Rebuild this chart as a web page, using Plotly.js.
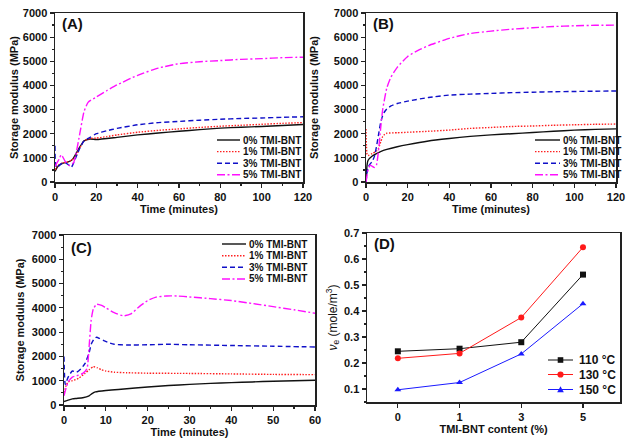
<!DOCTYPE html>
<html><head><meta charset="utf-8">
<script src="https://cdn.plot.ly/plotly-3.0.1.min.js"></script>
<style>html,body{margin:0;padding:0;background:#fff}#chart{width:628px;height:439px}</style>
</head><body><div id="chart"></div>
<script>
// Panel A (time in minutes, storage modulus MPa)
const aTime0 = [0, 1, 2, 4, 6, 8, 9, 10, 12, 14, 17, 20, 30, 40, 50, 60, 70, 80, 90, 100, 110, 120];
const aMod0  = [440, 600, 700, 780, 820, 900, 1000, 1150, 1450, 1700, 1780, 1760, 1850, 1950, 2030, 2100, 2170, 2230, 2270, 2300, 2340, 2380];
const aTime1 = [0, 1, 2, 4, 6, 8, 10, 12, 14, 17, 20, 25, 30, 40, 50, 60, 70, 80, 90, 100, 110, 120];
const aMod1  = [500, 650, 720, 800, 830, 900, 1050, 1400, 1700, 1800, 1820, 1880, 1950, 2060, 2140, 2200, 2260, 2310, 2350, 2390, 2430, 2460];
const aTime3 = [0, 0.3, 1, 3, 5, 7, 8, 10, 12, 14, 17, 20, 25, 30, 40, 50, 60, 70, 80, 90, 100, 110, 120];
const aMod3  = [1500, 700, 600, 750, 800, 680, 620, 1000, 1400, 1700, 1850, 2000, 2120, 2220, 2370, 2460, 2510, 2560, 2600, 2630, 2650, 2680, 2700];
const aTime5 = [0, 1, 2, 3, 4, 5, 7, 9, 10, 12, 14, 16, 20, 25, 30, 40, 50, 60, 70, 80, 90, 100, 110, 120];
const aMod5  = [650, 800, 950, 1130, 1000, 850, 680, 800, 1100, 2000, 2900, 3300, 3520, 3780, 4020, 4420, 4720, 4900, 4980, 5030, 5080, 5110, 5150, 5170];

// Panel B
const bTime0 = [0, 0.5, 1, 3, 5, 7, 10, 15, 20, 30, 40, 50, 60, 70, 80, 90, 100, 110, 120];
const bMod0  = [0, 700, 900, 1080, 1180, 1260, 1350, 1460, 1550, 1700, 1800, 1890, 1950, 2000, 2050, 2100, 2150, 2180, 2200];
const bTime1 = [0, 0.2, 0.5, 1, 3, 5, 6, 7, 8, 9, 10, 15, 20, 30, 40, 50, 60, 70, 80, 90, 100, 110, 120];
const bMod1  = [2200, 1500, 1150, 1100, 1180, 1280, 1400, 1650, 1880, 1980, 2020, 2040, 2060, 2100, 2150, 2220, 2260, 2300, 2320, 2350, 2370, 2390, 2400];
const bTime3 = [0, 0.5, 1, 2, 3, 4, 5, 6, 7, 8, 9, 10, 12, 15, 20, 30, 40, 50, 60, 70, 80, 90, 100, 110, 120];
const bMod3  = [0, 400, 600, 750, 850, 1050, 1450, 1950, 2450, 2750, 2920, 3030, 3150, 3250, 3350, 3500, 3600, 3640, 3670, 3700, 3720, 3740, 3750, 3760, 3770];
const bTime5 = [0, 1, 2, 3, 4, 5, 6, 7, 8, 10, 12, 15, 20, 25, 30, 40, 50, 60, 70, 80, 90, 100, 110, 120];
const bMod5  = [0, 500, 700, 650, 600, 700, 1300, 2200, 3000, 3900, 4350, 4750, 5200, 5450, 5650, 5950, 6150, 6250, 6330, 6390, 6440, 6470, 6490, 6500];

// Panel C
const cTime0 = [0, 1, 2, 3, 4.5, 6, 6.8, 7.5, 10, 13, 17, 20, 25, 30, 35, 40, 45, 50, 55, 60];
const cMod0  = [140, 200, 250, 270, 300, 380, 480, 540, 600, 640, 700, 740, 800, 850, 890, 920, 950, 980, 1000, 1020];
const cTime1 = [0, 0.5, 1, 2, 3.5, 5, 6, 7, 8, 9, 10, 12, 15, 20, 30, 40, 50, 60];
const cMod1  = [500, 800, 950, 1000, 1100, 1300, 1450, 1580, 1530, 1450, 1400, 1350, 1330, 1310, 1300, 1280, 1260, 1250];
const cTime3 = [0, 0.3, 1, 2, 3, 4, 5, 6, 6.5, 7.2, 7.8, 8.5, 9.5, 11, 12, 15, 20, 25, 30, 40, 50, 60];
const cMod3  = [2000, 850, 1150, 1400, 1350, 1480, 1700, 2150, 2500, 2720, 2790, 2740, 2650, 2550, 2500, 2470, 2480, 2500, 2480, 2450, 2420, 2390];
const cTime5 = [0, 0.5, 1, 2, 3, 4.5, 5.5, 6, 6.5, 7, 7.8, 9, 10, 12, 14.2, 16, 18, 20, 22, 24.5, 27, 30, 35, 40, 45, 50, 55, 60];
const cMod5  = [380, 700, 950, 1150, 1200, 1300, 1500, 2400, 3500, 3950, 4150, 4100, 4000, 3800, 3670, 3750, 4050, 4300, 4440, 4490, 4490, 4450, 4380, 4300, 4180, 4050, 3920, 3780];

// Panel D (crosslink density)
const dContent = ['0', '1', '3', '5'];
const d110 = [0.245, 0.255, 0.280, 0.540];
const d130 = [0.218, 0.237, 0.375, 0.645];
const d150 = [0.097, 0.125, 0.235, 0.428];

const seriesNames = ['0% TMI-BNT', '1% TMI-BNT', '3% TMI-BNT', '5% TMI-BNT'];
const tempNames = ['110 °C', '130 °C', '150 °C'];

const FONT = 'Liberation Sans, Arial, sans-serif';
const styles = [
  {color: '#111111', dash: 'solid'},
  {color: '#ff2020', dash: '1.5px,1.5px'},
  {color: '#1010c8', dash: '5px,3px'},
  {color: '#ff10ff', dash: '8px,2.5px,2px,2.5px'}
];
const dCols = ['#111111', '#ff1a1a', '#1a1aff'];
const dSyms = ['square', 'circle', 'triangle-up'];

function lineTraces(xs, ys, xa, ya) {
  return xs.map((x, i) => ({
    x: x, y: ys[i], xaxis: xa, yaxis: ya, type: 'scatter', mode: 'lines',
    name: seriesNames[i], showlegend: false,
    line: {color: styles[i].color, dash: styles[i].dash, width: 1.4, shape: 'spline', smoothing: 0.5}
  }));
}

const traces = [
  ...lineTraces([aTime0, aTime1, aTime3, aTime5], [aMod0, aMod1, aMod3, aMod5], 'x', 'y'),
  ...lineTraces([bTime0, bTime1, bTime3, bTime5], [bMod0, bMod1, bMod3, bMod5], 'x2', 'y2'),
  ...lineTraces([cTime0, cTime1, cTime3, cTime5], [cMod0, cMod1, cMod3, cMod5], 'x3', 'y3'),
];
[d110, d130, d150].forEach((ys, i) => {
  traces.push({x: dContent, y: ys, xaxis: 'x4', yaxis: 'y4', type: 'scatter', mode: 'lines+markers',
    name: tempNames[i], showlegend: false,
    line: {color: dCols[i], width: 1}, marker: {color: dCols[i], symbol: dSyms[i], size: 6}});
});

const W = 628, H = 439;
const px = (a, b) => [a / W, b / W];
const py = (top, bot) => [(H - bot) / H, (H - top) / H];
const X = v => v / W, Y = v => (H - v) / H;

const tickfont = {family: FONT, size: 11, color: '#111', weight: 'bold'};
const titlefont = {family: FONT, size: 11, color: '#111', weight: 'bold'};
function ax(domain, extra) {
  return Object.assign({
    domain: domain, showline: true, linecolor: '#222', linewidth: 1.5, mirror: true,
    ticks: 'outside', ticklen: 4, tickwidth: 1.2, tickcolor: '#222', showgrid: false, zeroline: false,
    tickfont: tickfont, fixedrange: true
  }, extra);
}

const shapes = [];
const annotations = [];
// hand-placed compact legends (Plotly's legend rows are taller than the reference)
function legend(x0, x1, xt, rows, names, fontSize, lineStyles, markers) {
  names.forEach((nm, i) => {
    const y = Y(rows[i]);
    shapes.push({type: 'line', xref: 'paper', yref: 'paper', x0: X(x0), x1: X(x1), y0: y, y1: y,
      line: {color: lineStyles[i].color, dash: lineStyles[i].dash, width: lineStyles[i].width || 1.4}});
    if (markers) {
      const cx = (x0 + x1) / 2, cy = rows[i], r = 2.8;
      const m = markers[i], col = lineStyles[i].color;
      if (m === 'square') shapes.push({type: 'rect', xref: 'paper', yref: 'paper', x0: X(cx - r), x1: X(cx + r), y0: Y(cy + r), y1: Y(cy - r), fillcolor: col, line: {width: 0}});
      else if (m === 'circle') shapes.push({type: 'circle', xref: 'paper', yref: 'paper', x0: X(cx - r - 0.3), x1: X(cx + r + 0.3), y0: Y(cy + r + 0.3), y1: Y(cy - r - 0.3), fillcolor: col, line: {width: 0}});
      else shapes.push({type: 'path', xref: 'paper', yref: 'paper', path: `M ${X(cx - r - 0.5)} ${Y(cy + r)} L ${X(cx + r + 0.5)} ${Y(cy + r)} L ${X(cx)} ${Y(cy - r - 0.5)} Z`, fillcolor: col, line: {width: 0}});
    }
    annotations.push({text: nm, xref: 'paper', yref: 'paper', x: X(xt), y: y, xanchor: 'left', yanchor: 'middle', showarrow: false,
      font: {family: FONT, size: fontSize, color: '#111', weight: 'bold'}});
  });
}
legend(217, 240, 241, [140, 151.6, 163.2, 174.8], seriesNames, 10, styles);
legend(535, 560, 561, [140, 151.6, 163.2, 174.8], seriesNames, 10, styles);
legend(222, 246, 247, [244, 255.7, 267.3, 279], seriesNames, 10, styles);
legend(548, 573, 577, [360, 374.5, 389.5], tempNames, 12, dCols.map(c => ({color: c, dash: 'solid', width: 1})), dSyms);

const panelFont = {family: FONT, size: 15, color: '#111', weight: 'bold'};
[['(A)', 60, 24], ['(B)', 371, 24], ['(C)', 69, 247], ['(D)', 372, 243]].forEach(([t, x, y]) => {
  annotations.push({text: t, xref: 'paper', yref: 'paper', x: X(x), y: Y(y), xanchor: 'left', yanchor: 'middle', showarrow: false, font: panelFont});
});

const layout = {
  width: W, height: H, margin: {l: 0, r: 0, t: 0, b: 0}, paper_bgcolor: '#fff', plot_bgcolor: '#fff',
  font: {family: FONT}, showlegend: false,
  xaxis: ax(px(55, 303), {anchor: 'y', range: [0, 120], dtick: 20, minor: {dtick: 10, ticklen: 2, ticks: 'outside'}, title: {text: 'Time (minutes)', font: titlefont, standoff: 0}}),
  yaxis: ax(py(13, 182), {anchor: 'x', range: [0, 7000], dtick: 1000, minor: {dtick: 500, ticklen: 2, ticks: 'outside'}, title: {text: 'Storage modulus (MPa)', font: titlefont, standoff: 2}}),
  xaxis2: ax(px(366, 616), {anchor: 'y2', range: [0, 120], dtick: 20, minor: {dtick: 10, ticklen: 2, ticks: 'outside'}, title: {text: 'Time (minutes)', font: titlefont, standoff: 0}}),
  yaxis2: ax(py(13, 182), {anchor: 'x2', range: [0, 7000], dtick: 1000, minor: {dtick: 500, ticklen: 2, ticks: 'outside'}, title: {text: 'Storage modulus (MPa)', font: titlefont, standoff: 13}}),
  xaxis3: ax(px(64, 315), {anchor: 'y3', range: [0, 60], dtick: 10, minor: {dtick: 5, ticklen: 2, ticks: 'outside'}, title: {text: 'Time (minutes)', font: titlefont, standoff: 1}}),
  yaxis3: ax(py(235, 405), {anchor: 'x3', range: [0, 7000], dtick: 1000, minor: {dtick: 500, ticklen: 2, ticks: 'outside'}, title: {text: 'Storage modulus (MPa)', font: titlefont, standoff: 5}}),
  xaxis4: ax(px(367, 620), {anchor: 'y4', type: 'category', range: [-0.5, 3.6], title: {text: 'TMI-BNT content (%)', font: titlefont, standoff: 1}}),
  yaxis4: ax(py(233, 402), {anchor: 'x4', range: [0.05, 0.7], dtick: 0.1, minor: {dtick: 0.05, ticklen: 2, ticks: 'outside'}, title: {text: '<i>ν</i><sub>e</sub> (mole/m<sup>3</sup>)', font: {family: FONT, size: 12, color: '#111'}, standoff: 4}}),
  shapes: shapes,
  annotations: annotations
};

Plotly.newPlot('chart', traces, layout, {staticPlot: true, displayModeBar: false});
</script></body></html>
